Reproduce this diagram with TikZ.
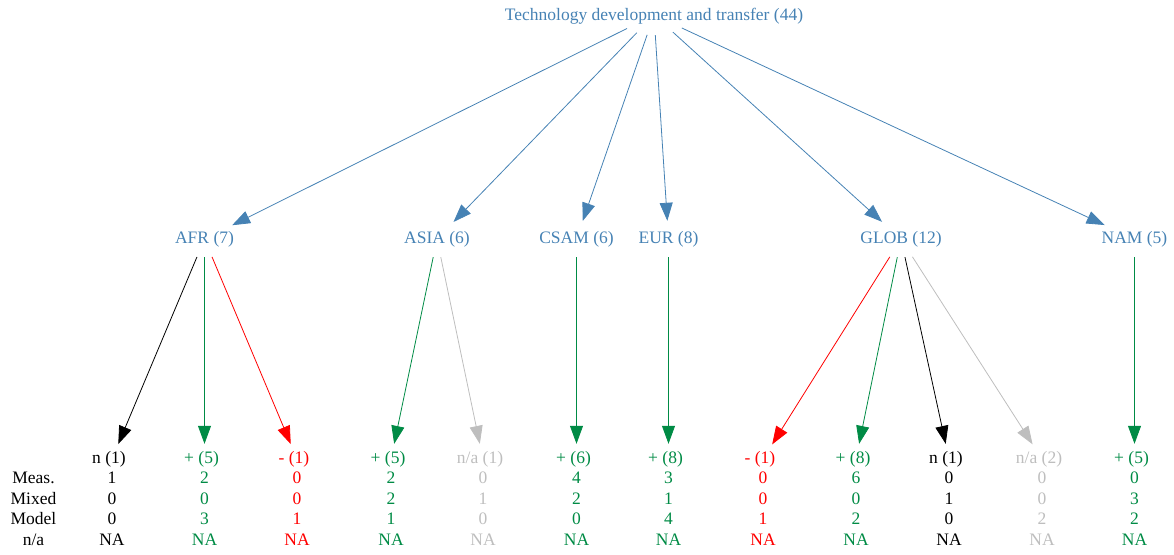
\documentclass[tikz,border=0pt]{standalone}
\usepackage{fontspec}
\setmainfont{Liberation Serif}
\usetikzlibrary{arrows.meta,shapes.geometric}
\definecolor{tblue}{HTML}{4682B4}
\definecolor{tgreen}{HTML}{008B45}
\definecolor{tred}{HTML}{FF0000}
\definecolor{tgray}{HTML}{BEBEBE}
\begin{document}
\begin{tikzpicture}[x=1pt,y=-1pt,
  every node/.style={font=\fontsize{17.5}{20}\selectfont, inner sep=0pt, text height=12pt, text depth=4pt},
  hubnode/.style={ellipse, minimum width=72pt, minimum height=40pt},
  cat/.style={ellipse, minimum width=84pt, minimum height=36pt, text=tblue},
  leaf/.style={ellipse, minimum width=66pt, minimum height=30pt},
  conn/.style={-{Triangle[length=18pt,width=13pt]}, line width=0.8pt},
]
\useasboundingbox (0,0) rectangle (1174,554);
% root
\node[text=tblue] (title) at (654,16.5) {Technology development and transfer (44)};
\node[hubnode] (hub) at (654,15) {};
% categories
\node[cat] (afr)  at (204.5,239) {AFR (7)};
\node[cat] (asia) at (437,239) {ASIA (6)};
\node[cat] (csam) at (576.5,239) {CSAM (6)};
\node[cat] (eur)  at (668.5,239) {EUR (8)};
\node[cat] (glob) at (901,239) {GLOB (12)};
\node[cat] (nam)  at (1134.5,239) {NAM (5)};
% row labels
\node (rmeas)  at (33.5,479.5) {Meas.};
\node (rmixed) at (33.5,500) {Mixed};
\node (rmodel) at (33.5,520.5) {Model};
\node (rna)    at (33.5,541) {n/a};
% leaves
\foreach \i/\x/\lab/\col/\a/\b/\c in {
  1/112/{n (1)}/black/1/0/0,
  2/204.5/{+ (5)}/tgreen/2/0/3,
  3/297/{- (1)}/tred/0/0/1,
  4/391/{+ (5)}/tgreen/2/2/1,
  5/483/{n/a (1)}/tgray/0/1/0,
  6/576.5/{+ (6)}/tgreen/4/2/0,
  7/668.5/{+ (8)}/tgreen/3/1/4,
  8/763/{- (1)}/tred/0/0/1,
  9/856/{+ (8)}/tgreen/6/0/2,
  10/949/{n (1)}/black/0/1/0,
  11/1042/{n/a (2)}/tgray/0/0/2,
  12/1134.5/{+ (5)}/tgreen/0/3/2}{
  \node[leaf, text=\col] (l\i) at (\x,459) {\lab\kern6pt};
  \node[text=\col] (l\i a) at (\x,479.5) {\a};
  \node[text=\col] (l\i b) at (\x,500) {\b};
  \node[text=\col] (l\i c) at (\x,520.5) {\c};
  \node[text=\col] (l\i d) at (\x,541) {NA};
}
% root edges
\foreach \t in {afr,asia,csam,eur,glob,nam}{
  \draw[conn, tblue] (hub) -- (\t);
}
% category to leaf edges
\draw[conn, black]  (afr) -- (l1);
\draw[conn, tgreen] (afr) -- (l2);
\draw[conn, tred]   (afr) -- (l3);
\draw[conn, tgreen] (asia) -- (l4);
\draw[conn, tgray]  (asia) -- (l5);
\draw[conn, tgreen] (csam) -- (l6);
\draw[conn, tgreen] (eur) -- (l7);
\draw[conn, tred]   (glob) -- (l8);
\draw[conn, tgreen] (glob) -- (l9);
\draw[conn, black]  (glob) -- (l10);
\draw[conn, tgray]  (glob) -- (l11);
\draw[conn, tgreen] (nam) -- (l12);
\end{tikzpicture}
\end{document}
